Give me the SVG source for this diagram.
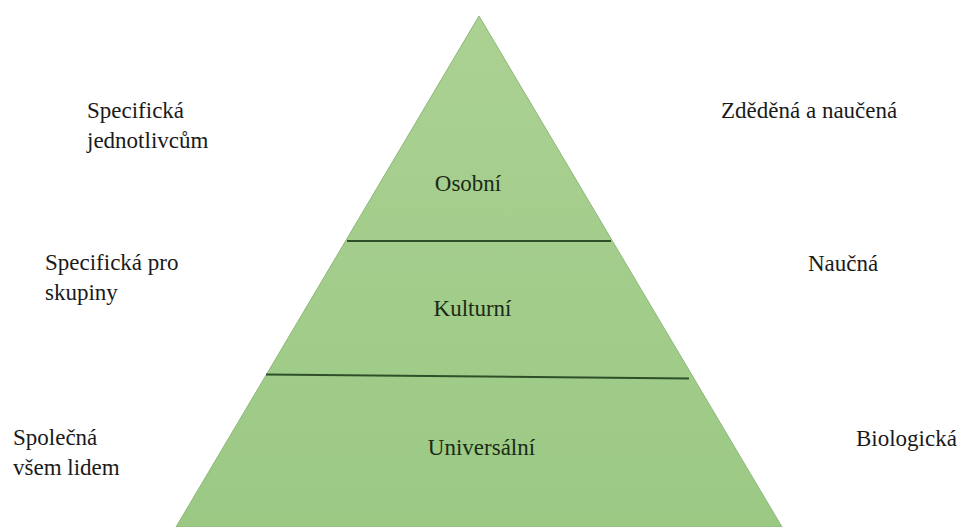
<svg xmlns="http://www.w3.org/2000/svg" width="961" height="527" viewBox="0 0 961 527">
<style>
text{font-family:'Liberation Serif',Tinos,'Times New Roman',Times,'DejaVu Serif',serif;font-size:23px}
.t{fill:#1a1a1a}
.c{fill:#1b2b17;text-anchor:middle}
.div{stroke:#2f4f28;stroke-width:2;fill:none}
</style>
<defs>
<linearGradient id="g" x1="0" y1="0" x2="0" y2="1">
<stop offset="0" stop-color="#abd193"/>
<stop offset="1" stop-color="#9bc984"/>
</linearGradient>
</defs>
<rect width="961" height="527" fill="#ffffff"/>
<g id="pyramid">
<polygon points="479,16 782,527 176,527" fill="url(#g)" stroke="#8db778" stroke-width="1"/>
</g>
<g id="connectors">
<line class="div" x1="347" y1="241" x2="611" y2="241"/>
<line class="div" x1="266" y1="374.5" x2="689" y2="378.5"/>
</g>
<g id="osobni"><text class="c" x="468" y="191">Osobní</text></g>
<g id="kulturni"><text class="c" x="472.5" y="316">Kulturní</text></g>
<g id="universalni"><text class="c" x="481.5" y="455">Universální</text></g>
<g id="left-top"><text class="t" x="87" y="118">Specifická</text><text class="t" x="87" y="148">jednotlivcům</text></g>
<g id="left-mid"><text class="t" x="45" y="270">Specifická pro</text><text class="t" x="45" y="300">skupiny</text></g>
<g id="left-bottom"><text class="t" x="13" y="445">Společná</text><text class="t" x="13" y="475">všem lidem</text></g>
<g id="right-top"><text class="t" x="721" y="118">Zděděná a naučená</text></g>
<g id="right-mid"><text class="t" x="808" y="271">Naučná</text></g>
<g id="right-bottom"><text class="t" x="856" y="446">Biologická</text></g>
</svg>
